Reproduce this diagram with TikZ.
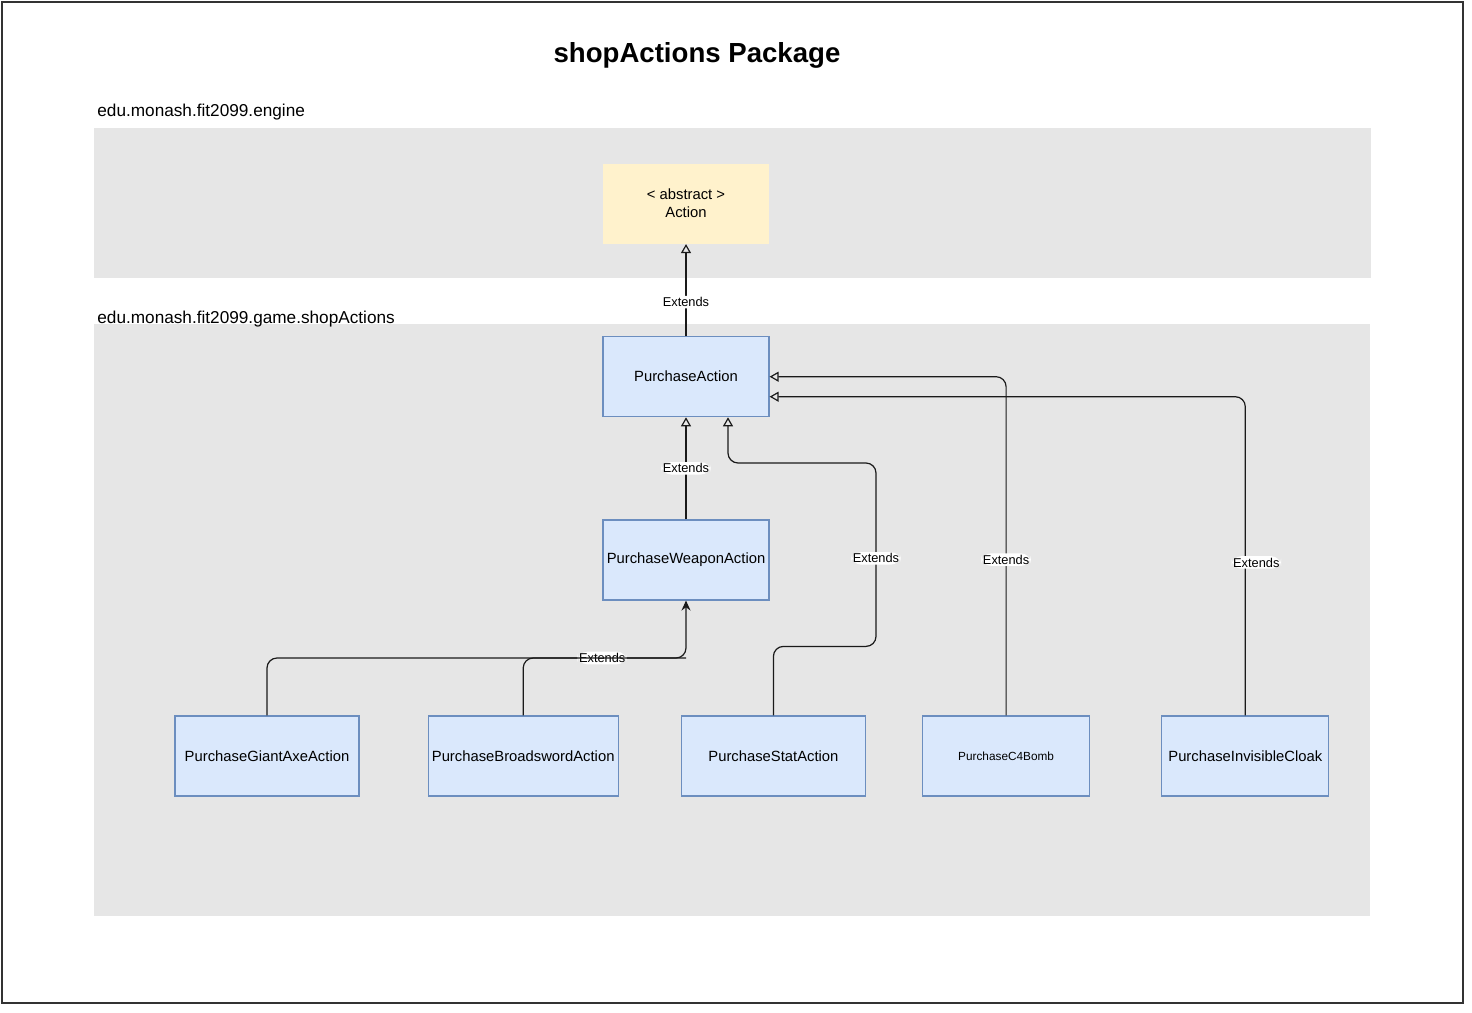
\documentclass[tikz,border=0pt]{standalone}
\usepackage{fontspec}
\setmainfont{Liberation Sans}
\usepackage{tikz}
\usetikzlibrary{arrows.meta, positioning, calc}
\usepackage{xcolor}

\definecolor{pkgfill}{HTML}{E6E6E6}
\definecolor{clsfill}{HTML}{DAE8FC}
\definecolor{clsline}{HTML}{6C8EBF}
\definecolor{absfill}{HTML}{FFF2CC}
\definecolor{framecol}{HTML}{333333}
\definecolor{edgecol}{HTML}{1A1A1A}

\begin{document}
\begin{tikzpicture}[
    x=0.5pt, y=-0.5pt,
    cls/.style={rectangle, draw=clsline, fill=clsfill, line width=0.6pt, minimum width=83pt, minimum height=40pt, inner sep=1pt, align=center, font=\fontsize{7.4}{9}\selectfont},
    abs/.style={cls, draw=none, fill=absfill},
    pkglabel/.style={anchor=west, inner sep=1pt, font=\fontsize{8.6}{10}\selectfont},
    lbl/.style={fill=white, inner sep=0.8pt, font=\fontsize{6.4}{7}\selectfont},
    ext/.style={-{Triangle[open, length=4.5pt, width=5pt]}, draw=edgecol, line width=0.6pt, rounded corners=5pt},
    use/.style={-{Stealth[length=5pt, width=4.5pt]}, draw=edgecol, line width=0.6pt, rounded corners=5pt}
]
    \useasboundingbox (0,0) rectangle (1472,1012);
    \draw[framecol, line width=0.8pt] (2,2) rectangle (1463,1003);

    \fill[pkgfill] (94,128) rectangle (1371,278);
    \fill[pkgfill] (94,324) rectangle (1370,916);

    \node[font=\bfseries\fontsize{13.8}{16}\selectfont] (title) at (697,55) {shopActions Package};
    \node[pkglabel] (englbl) at (95,112) {edu.monash.fit2099.engine};
    \node[pkglabel] (shoplbl) at (95,319) {edu.monash.fit2099.game.shopActions};

    \node[abs] (act) at (686,203.5) {< abstract >\\Action};
    \node[cls, below=46pt of act] (pa) {PurchaseAction};
    \node[cls, below=51pt of pa] (wpn) {PurchaseWeaponAction};

    \node[cls, minimum width=92pt] (giant) at (267,756) {PurchaseGiantAxeAction};
    \node[cls, minimum width=95pt, right=34pt of giant] (broad) {PurchaseBroadswordAction};
    \node[cls, minimum width=92pt, right=31pt of broad] (stat) {PurchaseStatAction};
    \node[cls, minimum width=83.5pt, right=28pt of stat, font=\fontsize{5.9}{7}\selectfont] (c4) {PurchaseC4Bomb};
    \node[cls, minimum width=83.5pt, right=35.5pt of c4] (cloak) {PurchaseInvisibleCloak};

    \coordinate (join) at (wpn.south |- 0,658);

    \draw[ext] (pa.north) -- node[lbl, pos=0.37] {Extends} (act.south);
    \draw[ext] (wpn.north) -- node[lbl] {Extends} (pa.south);
    \draw[ext] (stat.north) -- ++(0,-69) -| node[lbl, pos=0.74] {Extends} (876,463) -| ($(pa.south)+(42,0)$);
    \draw[ext] (c4.north) |- node[lbl, pos=0.23] {Extends} (pa.east);
    \draw[ext] (cloak.north) |- node[lbl, pos=0.24, xshift=5.5pt] {Extends} ($(pa.east)+(0,20)$);
    \draw[use] (giant.north) |- node[lbl, pos=0.9] {Extends} (join) -- (wpn.south);
    \draw[draw=edgecol, line width=0.6pt, rounded corners=5pt] (broad.north) |- (join);
\end{tikzpicture}
\end{document}
